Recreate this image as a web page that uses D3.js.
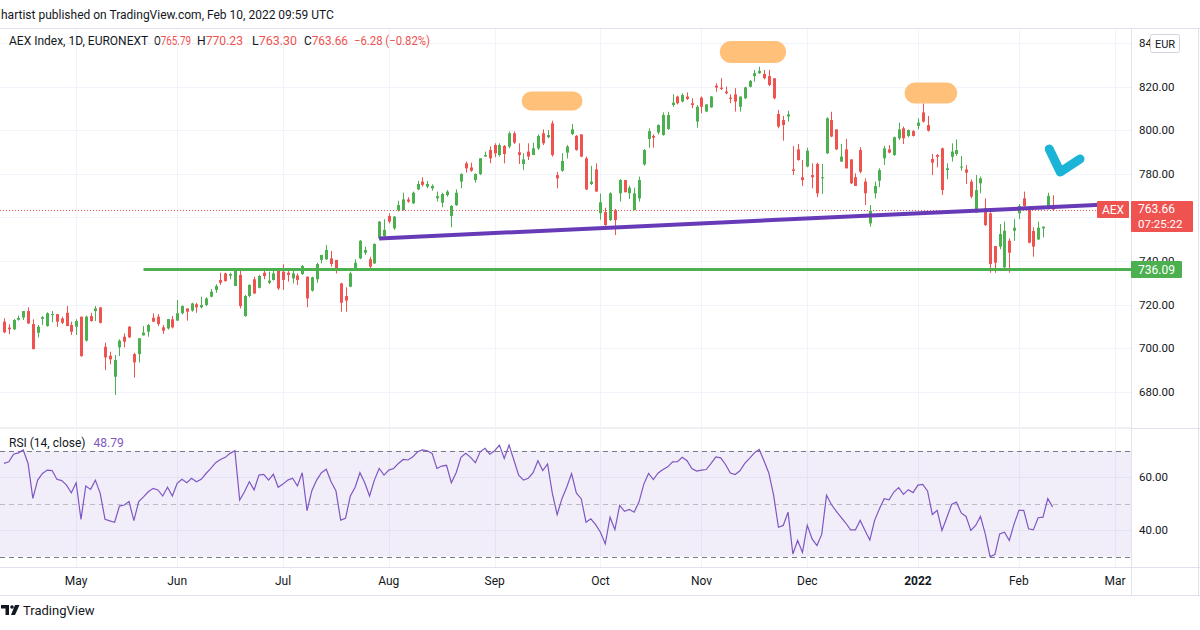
<!DOCTYPE html>
<html><head><meta charset="utf-8">
<script src="https://cdn.jsdelivr.net/npm/d3@7"></script>
<style>
body{margin:0;background:#fff;}
svg{display:block;font-family:Roboto,"Liberation Sans",Arial,sans-serif;}
</style>
</head><body>
<svg id="c" width="1200" height="630"></svg>
<script>
// ---------- DATA ----------
const firstDate = "2021-04-12";
const lastAxisDate = "2022-03-01";
const opens = [712.1,709.4,708.6,713.0,714.0,717.0,711.0,707.0,713.4,710.1,
715.3,715.6,713.6,716.2,710.6,709.8,714.4,703.4,714.7,717.0,
718.7,700.6,696.5,686.8,700.3,705.2,709.8,697.2,697.2,705.8,
707.5,713.9,714.4,709.5,709.0,713.2,712.6,716.0,718.2,717.2,
720.1,718.7,719.8,723.6,726.7,731.3,734.3,733.3,728.5,733.6,
714.7,723.9,731.6,727.7,734.6,730.0,731.3,735.4,735.1,734.6,
732.0,733.3,734.0,732.8,726.4,731.6,740.5,740.8,741.2,740.5,
729.7,723.9,728.2,736.2,741.2,743.8,740.8,738.9,750.4,751.5,
760.7,755.0,763.4,763.4,768.3,766.5,772.9,776.5,774.2,773.4,
768.8,766.8,770.3,760.7,765.7,776.5,784.9,783.0,777.2,780.0,
788.0,791.0,793.3,788.7,792.9,792.6,798.7,790.0,784.6,790.3,
788.7,791.8,798.7,796.9,803.3,779.5,781.5,789.8,798.4,797.5,
798.2,787.2,775.4,782.1,762.0,762.5,758.8,763.4,771.1,777.2,
771.1,763.4,768.8,784.4,796.1,797.5,799.1,797.9,800.7,811.7,
815.6,813.3,815.6,812.5,804.1,815.1,808.7,810.6,820.6,819.7,
817.9,815.1,816.6,810.9,814.8,820.1,825.0,826.3,826.0,825.0,
824.0,807.6,804.8,806.4,782.1,791.3,778.5,783.4,779.5,784.6,
778.0,789.5,804.8,800.5,785.7,791.3,786.7,778.5,791.0,776.5,
757.3,771.1,776.9,787.2,791.3,788.7,796.4,801.0,797.5,799.7,
802.1,808.3,802.5,786.9,788.7,791.8,781.8,787.9,789.2,783.0,
782.1,776.5,762.2,775.7,764.2,761.9,746.9,746.6,737.1,749.3,
753.9,761.9,768.8,763.7,753.8,749.9,755.0,764.2,765.79];
const highs = [713.7,710.9,713.3,714.9,717.0,718.7,713.2,710.6,714.7,716.4,
717.0,715.6,714.4,719.3,712.1,713.2,714.4,714.9,716.2,719.3,
718.7,702.5,698.3,696.8,704.0,706.7,710.1,697.8,704.5,710.1,
711.1,715.9,715.6,710.6,713.3,714.7,722.1,719.6,718.2,720.8,
720.8,723.6,723.3,727.1,729.3,734.6,734.6,734.6,735.6,735.9,
724.4,729.3,732.8,733.6,735.6,735.1,735.6,735.9,738.5,735.9,
735.9,734.3,738.2,732.8,732.8,739.2,742.8,747.3,744.6,740.5,
730.0,727.9,735.1,740.8,749.6,746.6,742.0,748.1,758.4,759.2,
761.9,760.7,767.7,771.4,769.3,771.9,776.9,778.5,776.8,775.2,
771.9,771.4,772.6,765.7,772.9,780.3,785.7,785.2,780.3,787.2,
790.3,792.6,794.1,794.1,793.3,799.5,799.5,794.1,789.5,794.1,
794.4,798.2,800.5,800.2,804.5,781.0,789.5,793.3,803.0,797.9,
798.2,788.0,783.7,784.9,771.0,764.5,771.6,763.9,777.7,777.2,
774.6,773.7,778.8,791.5,801.0,798.2,802.8,808.3,808.6,816.6,
816.0,817.1,817.5,814.8,811.7,815.6,812.0,815.9,821.7,824.0,
820.2,816.6,819.4,815.6,820.1,823.2,827.8,829.3,827.8,827.8,
824.0,809.4,806.7,809.1,792.9,793.8,786.4,792.1,784.9,785.2,
784.6,806.1,808.6,800.5,793.8,796.1,786.7,780.3,792.3,778.0,
765.7,776.5,782.6,792.9,793.3,797.2,803.6,801.8,800.5,800.2,
805.6,812.5,806.7,789.2,789.2,792.1,784.9,794.1,795.9,788.3,
784.1,777.5,779.5,778.8,768.8,762.7,746.9,757.0,758.1,750.4,
759.2,766.2,771.9,764.2,755.5,758.1,755.8,771.4,770.23];
const lows = [706.8,706.3,708.3,712.6,712.9,711.0,699.4,704.8,710.6,709.8,
711.8,709.8,711.0,710.1,706.0,706.0,696.0,703.0,712.1,712.4,
711.3,689.9,692.5,678.4,696.3,700.3,704.6,686.4,693.4,705.8,
705.2,712.1,710.1,706.5,708.5,709.0,712.6,715.5,712.6,716.7,
716.2,718.2,719.3,723.3,725.4,729.0,730.5,731.6,728.5,718.2,
714.4,723.3,724.8,727.4,731.6,729.4,731.0,726.7,726.7,730.5,
729.7,729.0,733.6,718.7,725.9,730.0,738.9,740.5,737.4,734.3,
716.7,716.7,727.9,735.6,740.8,742.8,736.2,738.6,750.0,751.2,
757.3,754.3,762.7,763.1,766.8,766.2,772.6,774.2,773.4,772.3,
767.3,764.7,769.6,755.5,765.3,773.4,780.6,781.0,776.0,779.5,
788.0,784.9,787.7,788.0,784.9,791.8,793.8,784.6,781.8,786.4,
788.7,791.0,793.3,796.4,788.0,773.4,781.0,787.2,797.9,790.7,
787.7,772.6,774.9,771.9,759.0,756.2,758.4,751.9,767.3,771.6,
768.5,763.4,767.3,783.8,792.1,792.1,798.2,797.6,800.2,810.9,
812.0,812.9,814.0,810.2,801.3,807.9,808.4,810.5,817.8,818.6,
816.6,812.5,808.7,808.7,814.5,819.8,822.4,826.0,823.5,820.4,
814.3,801.0,795.3,804.1,779.5,786.1,774.5,783.1,773.4,769.3,
770.8,789.2,796.9,791.0,785.7,782.6,775.4,774.5,780.3,765.7,
755.8,768.8,773.9,784.1,789.5,788.3,795.6,793.8,796.9,797.2,
800.5,803.6,799.5,779.5,783.1,770.3,777.5,785.7,788.3,781.5,
775.4,768.8,762.2,771.1,756.1,734.6,734.6,745.4,736.6,734.6,
749.3,759.2,764.9,748.1,742.0,749.6,750.9,763.7,763.30];
const closes = [707.2,708.6,712.9,713.8,717.0,711.3,699.5,709.8,714.2,716.0,
715.6,712.1,711.6,710.1,707.5,712.4,696.3,714.4,712.4,718.2,
711.6,695.7,694.8,694.5,703.4,702.9,704.9,693.4,704.5,707.1,
710.6,712.1,711.0,708.0,713.3,709.5,716.0,719.3,716.7,720.5,
718.7,719.8,722.8,725.9,728.5,730.0,730.8,734.0,735.6,719.3,
723.9,729.0,725.1,733.1,733.1,731.0,734.3,727.4,731.3,733.6,
734.3,731.3,737.7,722.8,732.5,738.6,742.8,745.1,738.6,735.6,
720.8,721.8,734.3,739.2,749.3,745.1,737.4,747.8,758.1,754.3,
758.1,760.4,765.7,768.3,767.3,771.4,775.4,775.0,775.4,774.5,
769.8,770.8,771.9,765.3,771.4,780.0,782.6,781.5,780.0,787.2,
788.7,787.2,789.5,793.3,789.2,798.7,794.4,788.7,786.7,788.0,
791.8,797.5,794.1,797.9,788.7,778.0,786.0,792.6,800.5,791.0,
788.0,772.9,776.5,771.9,767.0,756.5,771.1,758.8,777.2,771.6,
773.7,771.1,777.2,791.0,799.7,796.7,802.5,807.1,807.1,812.8,
812.5,816.3,814.5,811.7,810.9,810.9,812.0,815.6,819.7,819.1,
817.1,814.5,813.3,815.6,819.8,822.8,826.3,827.4,824.0,820.9,
814.8,801.8,802.5,807.4,781.4,786.4,777.2,790.7,778.5,771.1,
778.5,805.6,797.2,791.3,788.0,782.6,775.7,774.5,781.0,771.1,
763.1,774.5,781.8,791.8,789.8,796.9,800.5,796.4,800.2,797.5,
803.6,804.1,799.9,785.2,787.9,772.6,782.6,790.3,791.0,783.4,
780.6,769.6,772.6,778.0,756.5,738.6,739.2,752.4,753.9,743.8,
755.3,765.3,765.3,748.4,746.6,755.3,755.8,769.94,763.66];
const rsiValues = [65.2,65.8,68.7,69.2,70.3,65.2,52.0,58.9,61.4,62.7,
62.5,59.2,58.7,57.0,54.1,57.9,44.1,56.7,55.4,58.9,
53.9,44.1,43.5,43.0,49.1,49.5,50.8,43.6,50.8,52.6,
54.5,55.8,55.2,52.9,56.2,52.9,57.7,59.2,57.9,59.6,
58.3,59.2,61.4,63.3,65.5,66.7,67.5,69.0,70.0,51.4,
54.5,58.3,55.2,60.8,61.1,58.9,61.1,56.2,57.4,58.9,
59.6,56.7,61.7,47.4,54.9,58.9,61.7,63.0,58.3,54.9,
43.8,44.5,52.9,56.2,61.7,57.9,52.9,58.9,63.3,60.8,
62.7,63.3,65.2,66.7,66.5,67.7,69.6,70.3,70.0,69.0,
63.3,64.2,64.5,57.9,61.7,67.5,69.0,67.5,65.5,69.6,
70.9,68.7,70.0,72.1,67.1,72.1,66.5,60.8,58.9,59.6,
61.7,66.2,62.5,65.0,53.9,45.9,51.9,56.3,61.4,54.0,
51.9,43.0,44.3,42.1,39.2,34.8,44.9,40.2,49.4,47.1,
47.8,46.8,50.6,57.3,61.4,59.1,61.6,62.9,63.9,65.8,
65.9,67.5,66.2,63.3,62.3,62.7,62.9,65.2,67.7,67.3,
64.8,61.6,61.0,62.4,65.2,67.1,69.2,70.5,66.2,61.6,
53.2,41.1,41.8,46.8,31.0,36.1,31.6,41.8,36.7,34.2,
38.4,53.2,49.7,47.2,44.9,42.7,40.1,40.1,43.7,39.9,
36.3,43.7,48.1,51.9,51.5,54.4,56.1,53.5,55.3,54.2,
57.0,57.3,54.8,45.9,47.5,39.9,44.7,49.7,50.6,46.5,
45.2,39.9,41.8,45.2,38.6,30.0,30.8,38.6,39.2,36.1,
42.4,47.5,47.5,40.5,40.1,44.7,44.9,51.9,48.79];
const monthTickLabels = ["May","Jun","Jul","Aug","Sep","Oct","Nov","Dec","2022","Feb","Mar"];
const priceTicks = [680,700,720,740,760,780,800,820,840];
const rsiTicks = [40,60];
const rsiLevels = [70,50,30];
const supportLevel = 736.09;
const supportStartBar = 29;
const trendline = [[78,750.4],[233.6,766.4]];          // [bar index, price]
const highlights = [[[109.6,813.6],[118.3,813.6]],[[151.1,836.1],[160.3,836.1]],[[189.4,817.2],[196.0,817.2]]];
const arrowPts = [[217.3,791.5],[219.6,780.9],[223.7,786.9]];
const lastPrice = 763.66;
const lastRsi = 48.79;
const legendName = "AEX Index, 1D, EURONEXT";
const legendOHLC = [["O",765.79],["H",770.23],["L",763.30],["C",763.66]];
const legendChange = "\u22126.28 (\u22120.82%)";

// ---------- SETUP ----------
const svg = d3.select("#c");
const GREEN = "#4caf50", RED = "#ef5350", TXT = "#131722", GRID = "#f0f3fa", BORDER = "#e0e3eb";
const PR = 1131, MT = 28, MB = 428, RT = 429, RB = 567;

const parse = d3.timeParse("%Y-%m-%d");
const dates = d3.timeDay.range(parse(firstDate), d3.timeDay.offset(parse(lastAxisDate),1))
  .filter(d => d.getDay() !== 0 && d.getDay() !== 6);

const x = d3.scaleLinear().domain([-0.832, 234.3]).range([0, PR]);
const y = d3.scaleLinear().domain([663.7, 847.1]).range([427, MT]);
const yr = d3.scaleLinear().domain([26.1, 78.2]).range([RB, RT]);

const monthIdx = [];
dates.forEach((d,i) => { if (i>0 && d.getMonth() !== dates[i-1].getMonth()) monthIdx.push(i); });

const defs = svg.append("defs");
defs.append("clipPath").attr("id","clipMain").append("rect").attr("x",0).attr("y",MT).attr("width",PR).attr("height",MB-MT);
defs.append("clipPath").attr("id","clipRsi").append("rect").attr("x",0).attr("y",RT).attr("width",PR).attr("height",RB-RT);
defs.append("clipPath").attr("id","clipAxisTop").append("rect").attr("x",PR).attr("y",0).attr("width",19).attr("height",60);

// header
svg.append("text").attr("x",1).attr("y",19).attr("font-size",12).attr("fill",TXT)
  .text("hartist published on TradingView.com, Feb 10, 2022 09:59 UTC");

// grids
const gGrid = svg.append("g");
priceTicks.forEach(p => gGrid.append("line").attr("x1",0).attr("x2",PR)
  .attr("y1",Math.round(y(p))+0.5).attr("y2",Math.round(y(p))+0.5).attr("stroke",GRID));
rsiTicks.forEach(p => gGrid.append("line").attr("x1",0).attr("x2",PR)
  .attr("y1",Math.round(yr(p))+0.5).attr("y2",Math.round(yr(p))+0.5).attr("stroke",GRID));
monthIdx.forEach(i => {
  const xx = Math.round(x(i))+0.5;
  gGrid.append("line").attr("x1",xx).attr("x2",xx).attr("y1",MT).attr("y2",MB).attr("stroke",GRID);
  gGrid.append("line").attr("x1",xx).attr("x2",xx).attr("y1",RT).attr("y2",RB).attr("stroke",GRID);
});

// frame
const frame = [[0,MT+0.5,1200,MT+0.5],[0,MB+0.5,1200,MB+0.5],[0,RB+0.5,1200,RB+0.5],[0,595.5,1200,595.5],[PR+0.5,MT,PR+0.5,595],[1198.5,MT,1198.5,595]];
frame.forEach(f => svg.append("line").attr("x1",f[0]).attr("y1",f[1]).attr("x2",f[2]).attr("y2",f[3]).attr("stroke",BORDER).attr("stroke-width",1));
svg.append("rect").attr("x",0).attr("y",MB-1).attr("width",PR).attr("height",2).attr("fill","#eef0f4");

// main pane
const gMain = svg.append("g").attr("clip-path","url(#clipMain)");
gMain.append("line").attr("x1",0).attr("x2",PR).attr("y1",Math.round(y(lastPrice))+0.5).attr("y2",Math.round(y(lastPrice))+0.5)
  .attr("stroke",RED).attr("stroke-dasharray","1 2").attr("stroke-width",1);

const candles = opens.map((o,i) => ({i, o, h:highs[i], l:lows[i], c:closes[i]}));
const col = d => d.c >= d.o ? GREEN : RED;
gMain.selectAll("line.wick").data(candles).join("line").attr("class","wick")
  .attr("x1", d => Math.round(x(d.i))+0.5).attr("x2", d => Math.round(x(d.i))+0.5)
  .attr("y1", d => y(d.h)).attr("y2", d => y(d.l)).attr("stroke", col).attr("stroke-width",1);
gMain.selectAll("rect.body").data(candles).join("rect").attr("class","body")
  .attr("x", d => Math.round(x(d.i))-1).attr("width",3)
  .attr("y", d => y(Math.max(d.o,d.c))).attr("height", d => Math.max(1, Math.abs(y(d.o)-y(d.c))))
  .attr("fill", col);

gMain.append("line").attr("x1",x(supportStartBar)).attr("x2",PR).attr("y1",y(supportLevel)).attr("y2",y(supportLevel))
  .attr("stroke",GREEN).attr("stroke-width",3);
gMain.append("line").attr("x1",x(trendline[0][0])).attr("y1",y(trendline[0][1]))
  .attr("x2",x(trendline[1][0])).attr("y2",y(trendline[1][1]))
  .attr("stroke","#673ab7").attr("stroke-width",4);

const lineGen = d3.line().x(d => x(d[0])).y(d => y(d[1]));
const hw = [19,22,21];
highlights.forEach((h,k) => gMain.append("path").attr("d",lineGen(h)).attr("fill","none")
  .attr("stroke","#ffc07a").attr("stroke-width",hw[k]).attr("stroke-linecap","round"));
gMain.append("path").attr("d",lineGen(arrowPts)).attr("fill","none").attr("stroke","#1cb4d6")
  .attr("stroke-width",9).attr("stroke-linecap","round").attr("stroke-linejoin","round");

// legend
svg.append("text").attr("x",9).attr("y",45).attr("font-size",12).attr("fill",TXT).text(legendName);
const ohlcX = [[154,37],[197,46],[252,45],[304,44]];
legendOHLC.forEach((o,k) => {
  const t = svg.append("text").attr("x",ohlcX[k][0]).attr("y",45).attr("font-size",12)
    .attr("textLength",ohlcX[k][1]).attr("lengthAdjust","spacingAndGlyphs");
  t.append("tspan").attr("fill",TXT).text(o[0]);
  t.append("tspan").attr("fill",RED).text(o[1].toFixed(2));
});
svg.append("text").attr("x",354).attr("y",45).attr("font-size",12).attr("fill",RED)
  .attr("textLength",76).attr("lengthAdjust","spacingAndGlyphs").text(legendChange);

// price axis labels (the ones hidden behind the last-price box are not drawn)
const gAx = svg.append("g").attr("font-size",11.5).attr("fill",TXT);
priceTicks.forEach(p => {
  if (Math.abs(y(p) - y(lastPrice)) < 14) return;
  const t = gAx.append("text").attr("x",1139).attr("y",y(p)+4).text(p.toFixed(2));
  if (y(p) < 60) t.attr("clip-path","url(#clipAxisTop)");
});
svg.append("rect").attr("x",1150.5).attr("y",34.5).attr("width",29).attr("height",18).attr("rx",2)
  .attr("fill","#fff").attr("stroke","#d1d4dc");
svg.append("text").attr("x",1165).attr("y",47.5).attr("text-anchor","middle").attr("font-size",11).attr("fill",TXT).text("EUR");

const yl = y(lastPrice);
svg.append("rect").attr("x",1097).attr("y",yl-8.5).attr("width",32).attr("height",17).attr("rx",1).attr("fill",RED);
svg.append("text").attr("x",1113).attr("y",yl+4).attr("text-anchor","middle").attr("font-size",12).attr("fill","#fff").text("AEX");
svg.append("rect").attr("x",PR).attr("y",yl-8.5).attr("width",62).attr("height",31).attr("rx",1).attr("fill",RED);
svg.append("text").attr("x",1138).attr("y",yl+3.5).attr("font-size",12).attr("fill","#fff").text(lastPrice.toFixed(2));
svg.append("text").attr("x",1138).attr("y",yl+18.5).attr("font-size",11.5).attr("fill","#fff").text("07:25:22");
const ys = y(supportLevel);
svg.append("rect").attr("x",PR).attr("y",ys-8.5).attr("width",51).attr("height",17).attr("rx",1).attr("fill",GREEN);
svg.append("text").attr("x",1138).attr("y",ys+4).attr("font-size",12).attr("fill","#fff").text(supportLevel.toFixed(2));

// RSI pane
const gR = svg.append("g").attr("clip-path","url(#clipRsi)");
gR.append("rect").attr("x",0).attr("width",PR).attr("y",yr(70)).attr("height",yr(30)-yr(70)).attr("fill","rgba(126,87,194,0.1)");
rsiLevels.forEach(l => gR.append("line").attr("x1",0).attr("x2",PR).attr("y1",Math.round(yr(l))+0.5).attr("y2",Math.round(yr(l))+0.5)
  .attr("stroke", l===50 ? "rgba(120,123,134,0.45)" : "#787b86").attr("stroke-dasharray","5 4").attr("stroke-width",1));
const rsiLine = d3.line().x((d,i) => x(i)).y(d => yr(d));
gR.append("path").attr("d",rsiLine(rsiValues)).attr("fill","none").attr("stroke","#7e57c2").attr("stroke-width",1.2);
const rl = svg.append("text").attr("x",9).attr("y",447).attr("font-size",12);
rl.append("tspan").attr("fill",TXT).text("RSI (14, close)");
rl.append("tspan").attr("fill","#7e57c2").attr("dx",8).text(lastRsi.toFixed(2));
rsiTicks.forEach(p => gAx.append("text").attr("x",1139).attr("y",yr(p)+4).text(p.toFixed(2)));

// time axis
monthIdx.forEach((i,k) => {
  if (k >= monthTickLabels.length) return;
  svg.append("text").attr("x",x(i)).attr("y",585).attr("text-anchor","middle").attr("font-size",12)
    .attr("font-weight", monthTickLabels[k]==="2022" ? "bold" : "normal").attr("fill",TXT).text(monthTickLabels[k]);
});

// TradingView logo
const lgG = svg.append("g").attr("fill",TXT);
lgG.append("path").attr("d","M1,605 h8 v10 h-3.5 v-6.5 h-4.5 z");
lgG.append("circle").attr("cx",12).attr("cy",607).attr("r",1.8);
lgG.append("path").attr("d","M15,605 h4.5 l-4.5,10 h-4 z");
svg.append("text").attr("x",23).attr("y",615).attr("font-size",13).attr("fill",TXT).text("TradingView");
</script>
</body></html>
